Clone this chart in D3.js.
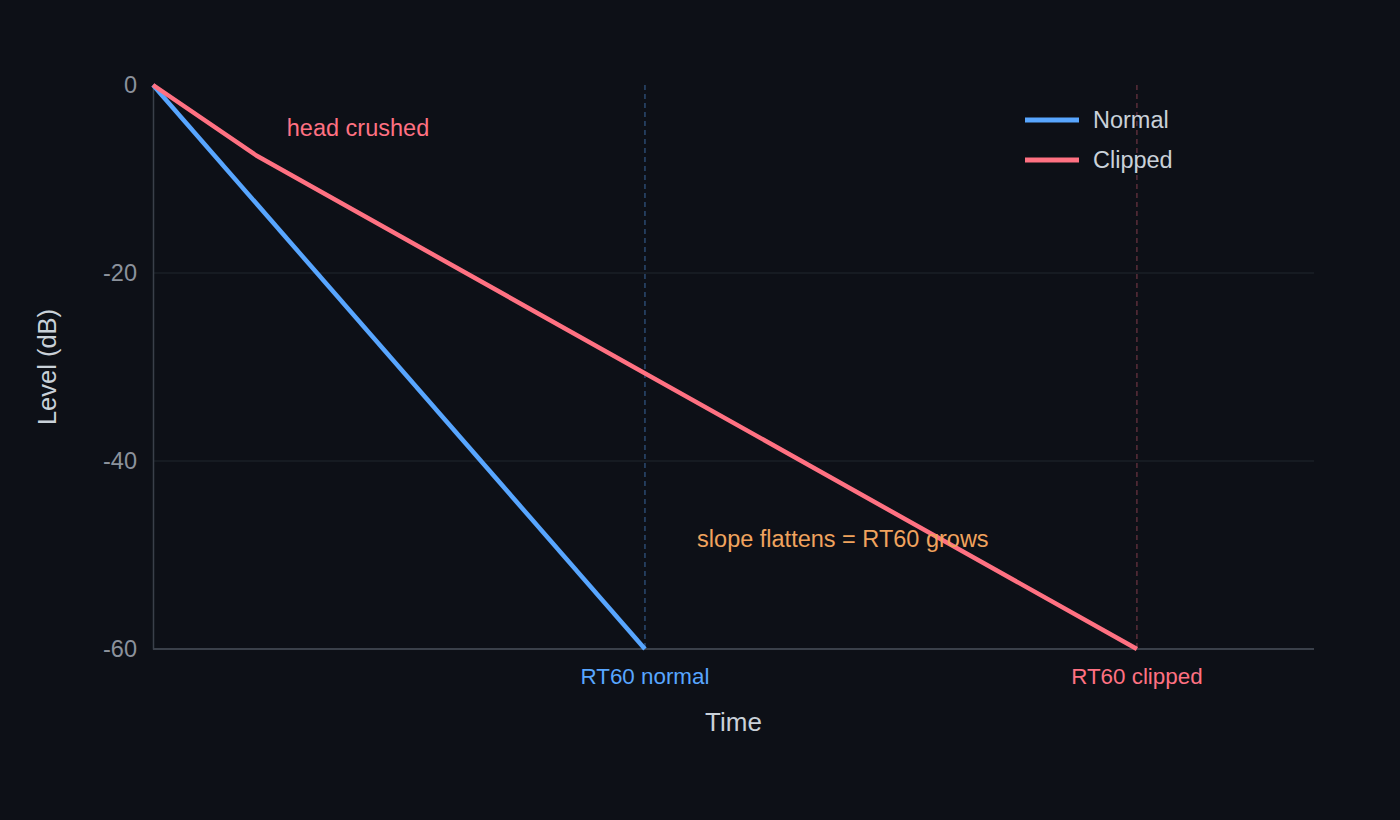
<!DOCTYPE html>
<html>
<head>
<meta charset="utf-8">
<script src="https://cdn.jsdelivr.net/npm/d3@7"></script>
<style>
  html, body { margin: 0; padding: 0; background: #0d1017; }
  svg { display: block; font-family: "Helvetica Neue", Arial, "Liberation Sans", sans-serif; }
</style>
</head>
<body>
<svg id="chart"></svg>
<script>
// decay curves (time in s, level in dB)
const normalTimes = [0, 1.0];
const normalLevels = [0, -60];
const clippedTimes = [0, 0.21, 2.0];
const clippedLevels = [0, -7.5, -60];
const rt60Marks = [
  {label: 'RT60 normal', t: 1.0, color: '#58a6ff', dash: '#2b4a70'},
  {label: 'RT60 clipped', t: 2.0, color: '#ff7182', dash: '#5a2e3a'}
];
const yTicks = [0, -20, -40, -60];
const seriesNames = ['Normal', 'Clipped'];
const seriesColors = ['#58a6ff', '#ff7182'];

const config = {
  width: 1400,
  height: 820,
  margin: {top: 85, right: 86, bottom: 171, left: 153}
};

const svg = d3.select('#chart')
    .attr('width', config.width)
    .attr('height', config.height);

const width = config.width - config.margin.left - config.margin.right;
const height = config.height - config.margin.top - config.margin.bottom;

const chart = svg.append('g')
    .attr('transform', `translate(${config.margin.left},${config.margin.top})`);

const xScale = d3.scaleLinear().domain([0, 2.36]).range([0, width]);
const yScale = d3.scaleLinear().domain([0, -60]).range([0, height]);

// gridlines
chart.selectAll('.grid')
    .data(yTicks.filter(d => d !== 0 && d !== -60))
    .join('line')
    .attr('class', 'grid')
    .attr('x1', 0)
    .attr('x2', width)
    .attr('y1', d => yScale(d))
    .attr('y2', d => yScale(d))
    .style('stroke', '#21262e')
    .style('stroke-width', 1);

// y axis
const yAxis = d3.axisLeft(yScale)
    .tickValues(yTicks)
    .tickSize(0)
    .tickPadding(16)
    .tickFormat(d => d);
const yAxisG = chart.append('g').call(yAxis);
yAxisG.select('.domain').style('stroke', '#3a404a').style('stroke-width', 1.5);
yAxisG.selectAll('text')
    .style('fill', '#8b929c')
    .style('font-size', '23.5px');

// x axis line only
chart.append('line')
    .attr('x1', 0).attr('x2', width)
    .attr('y1', height).attr('y2', height)
    .style('stroke', '#3a404a')
    .style('stroke-width', 2);

// RT60 dashed markers
chart.selectAll('.rt-line')
    .data(rt60Marks)
    .join('line')
    .attr('class', 'rt-line')
    .attr('x1', d => xScale(d.t))
    .attr('x2', d => xScale(d.t))
    .attr('y1', 0)
    .attr('y2', height)
    .style('stroke', d => d.dash)
    .style('stroke-width', 1.5)
    .style('stroke-dasharray', '5, 4');

chart.selectAll('.rt-label')
    .data(rt60Marks)
    .join('text')
    .attr('class', 'rt-label')
    .attr('x', d => xScale(d.t))
    .attr('y', height + 27)
    .attr('dy', '0.35em')
    .attr('text-anchor', 'middle')
    .style('fill', d => d.color)
    .style('font-size', '22.4px')
    .text(d => d.label);

// lines
const line = d3.line()
    .x(d => xScale(d[0]))
    .y(d => yScale(d[1]));

const normalData = normalTimes.map((t, i) => [t, normalLevels[i]]);
const clippedData = clippedTimes.map((t, i) => [t, clippedLevels[i]]);

chart.append('path')
    .datum(normalData)
    .attr('d', line)
    .style('fill', 'none')
    .style('stroke', seriesColors[0])
    .style('stroke-width', 4.5)
    .style('stroke-linejoin', 'round');

chart.append('path')
    .datum(clippedData)
    .attr('d', line)
    .style('fill', 'none')
    .style('stroke', seriesColors[1])
    .style('stroke-width', 4.5)
    .style('stroke-linejoin', 'round');

// annotations
chart.append('text')
    .attr('x', xScale(0.272))
    .attr('y', yScale(-4.5))
    .attr('dy', '0.35em')
    .style('fill', '#ff7182')
    .style('font-size', '23.5px')
    .text('head crushed');

chart.append('text')
    .attr('x', xScale(1.106))
    .attr('y', yScale(-48.3))
    .attr('dy', '0.35em')
    .style('fill', '#f0a35e')
    .style('font-size', '23.5px')
    .text('slope flattens = RT60 grows');

// axis titles
chart.append('text')
    .attr('x', width / 2)
    .attr('y', height + 73)
    .attr('dy', '0.35em')
    .attr('text-anchor', 'middle')
    .style('fill', '#c9d1d9')
    .style('font-size', '26px')
    .text('Time');

chart.append('text')
    .attr('transform', `translate(${-97}, ${height / 2}) rotate(-90)`)
    .attr('text-anchor', 'middle')
    .style('fill', '#c9d1d9')
    .style('font-size', '25.5px')
    .text('Level (dB)');

// legend
const legend = chart.append('g')
    .attr('transform', `translate(${1025 - config.margin.left}, ${120 - config.margin.top})`);
const legendItem = legend.selectAll('.legend-item')
    .data(seriesNames)
    .join('g')
    .attr('class', 'legend-item')
    .attr('transform', (d, i) => `translate(0, ${i * 40})`);
legendItem.append('line')
    .attr('x1', 0).attr('x2', 54)
    .attr('y1', 0).attr('y2', 0)
    .style('stroke', (d, i) => seriesColors[i])
    .style('stroke-width', 5);
legendItem.append('text')
    .attr('x', 68)
    .attr('dy', '0.35em')
    .style('fill', '#c9d1d9')
    .style('font-size', '23.5px')
    .text(d => d);
</script>
</body>
</html>
